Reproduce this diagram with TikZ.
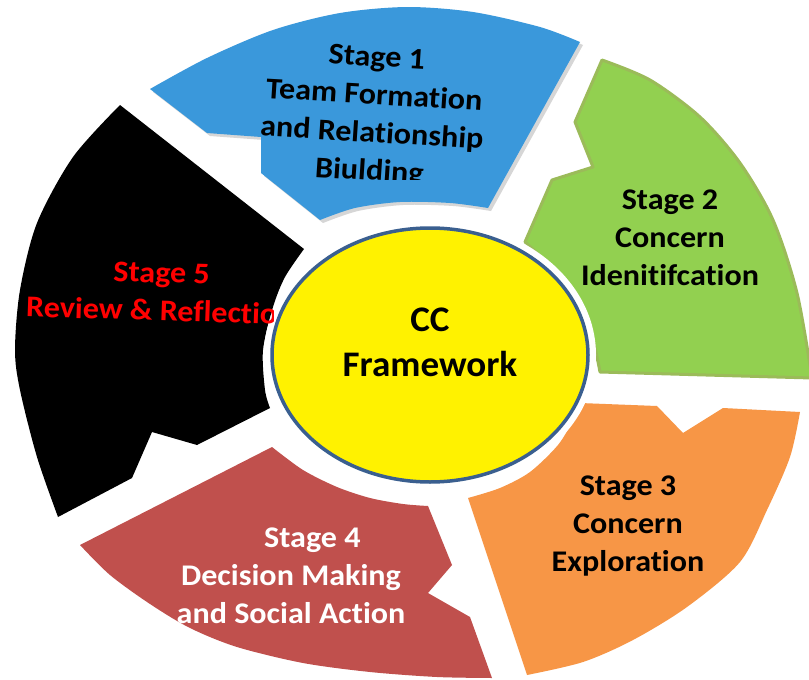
\documentclass[tikz,border=0pt]{standalone}
\usepackage{fontspec}
\setmainfont{Carlito}[Ligatures={NoCommon}]
\usetikzlibrary{shapes.geometric}
\definecolor{cblue}{HTML}{3A98DB}
\definecolor{cgreen}{HTML}{92D050}
\definecolor{cgreenb}{HTML}{9BBB59}
\definecolor{corange}{HTML}{F79646}
\definecolor{cred}{HTML}{C0504D}
\definecolor{ccborder}{HTML}{3A5F8F}
\definecolor{cshadow}{HTML}{D6D6D6}
\begin{document}
\begin{tikzpicture}[x=1pt,y=-1pt,
  stagetext/.style={font=\fontsize{30}{38}\selectfont\bfseries, align=center, inner sep=0pt, xscale=1.07},
  sonepath/.style={insert path={(150,89) -- plot[smooth] coordinates {(150,89) (207,58) (273,30) (340,13) (407,7) (473,12) (540,27) (580,42)} -- (488,208) -- plot[smooth] coordinates {(488,208) (450,203) (400,202) (355,208) (320,220)} -- (261,173) -- (261,137) -- (207,133) -- cycle}}]
\useasboundingbox (0,0) rectangle (809,680);
\clip (0,0) rectangle (809,680);
\fill[white] (0,0) rectangle (809,680);
% Stage 1 (shadow + shape)
\path[fill=cshadow, shift={(3,3)}, sonepath];
\path[fill=cblue, sonepath];
% Stage 2
\filldraw[fill=cgreen, draw=cgreenb, line width=3pt, line join=round]
  (602,60) -- plot[smooth] coordinates {(602,60) (650,80) (700,117) (740,163) (773,220) (797,293) (812,378)}
  -- (600,372) -- plot[smooth] coordinates {(600,372) (590,330) (568,285) (525,242)}
  -- (552,180) -- (593,167) -- (575,122) -- cycle;
% Stage 3
\fill[corange]
  (468,498) -- plot[smooth] coordinates {(468,498) (500,488) (530,472) (558,445) (573,420) (580,403)}
  -- (657,406) -- (683,433) -- (723,408) -- (800,412)
  -- plot[smooth] coordinates {(800,412) (790,457) (767,510) (740,562) (687,607) (633,640) (583,662) (527,675)}
  -- cycle;
% Stage 4
\fill[cred]
  (80,545) -- (272,447) -- plot[smooth] coordinates {(272,447) (303,470) (337,487) (370,498) (403,504) (428,506)}
  -- (452,565) -- (428,593) -- (470,617) -- (492,678)
  -- plot[smooth] coordinates {(492,678) (437,677) (370,672) (303,663) (237,647) (190,628) (150,604) (110,575) (80,545)}
  -- cycle;
% Stage 5
\fill[black]
  (120,105) -- (304,249) -- plot[smooth] coordinates {(304,249) (285,277) (273,307) (263,350) (265,390) (270,408)}
  -- (197,445) -- (152,432) -- (132,478) -- (58,517)
  -- plot[smooth] coordinates {(58,517) (37,457) (20,390) (15,350) (20,290) (37,223) (73,157) (120,105)}
  -- cycle;
% texts
\begin{scope}
  \clip (140,0) rectangle (600,179);
  \node[stagetext, rotate=-3.5] (t1) at (373,116) {Stage 1\\Team Formation\\and Relationship\\Biulding};
\end{scope}
\node[stagetext] (t2) at (670,238) {Stage 2\\Concern\\Idenitifcation};
\node[stagetext] (t3) at (628,526) {Stage 3\\Concern\\Exploration};
\node[stagetext, text=white] (t4) at (291,576) {\hspace*{40pt}Stage 4\\Decision Making\\and Social Action};
% centre
\fill[white] (430,355) ellipse [x radius=166pt, y radius=135pt];
\node[ellipse, draw=ccborder, line width=3.5pt, fill=yellow, minimum width=316pt, minimum height=254pt, inner sep=0pt] (cc) at (430,355) {};
\node[font=\fontsize{36}{45}\selectfont\bfseries, align=center, inner sep=0pt, xscale=1.03] (cctext) at (430,342) {CC\\Framework};
\begin{scope}
  \clip (0,0) rectangle (273,680);
  \node[stagetext, text=red, rotate=-1.8] (t5) at (161,292) {Stage 5\\Review \& Reflectio\hspace*{16pt}};
\end{scope}
\end{tikzpicture}
\end{document}
